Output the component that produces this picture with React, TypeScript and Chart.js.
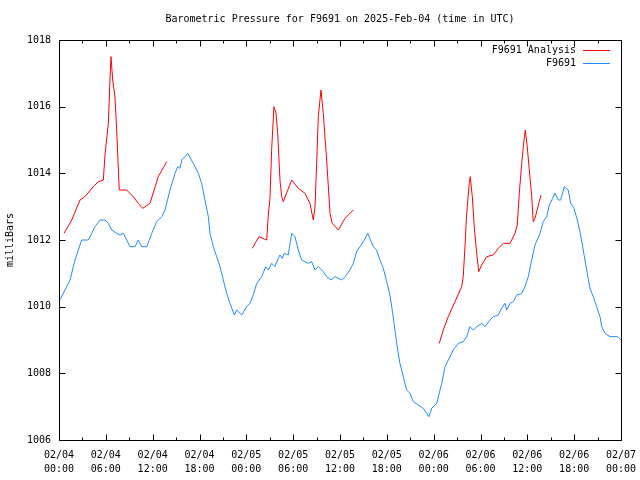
import React, { useEffect, useRef } from "react";
import { Chart, registerables } from "chart.js";

Chart.register(...registerables);

const FONT = "'DejaVu Sans Mono', 'Liberation Mono', monospace";
const TITLE = "Barometric Pressure for F9691 on 2025-Feb-04 (time in UTC)";
const Y_TITLE = "milliBars";
const SERIES_NAMES = ["F9691 Analysis", "F9691"];
const SERIES_COLORS = ["#ff0000", "#1e8cff"];

// x tick labels every 6 hours (hours since 02/04 00:00 UTC)
const TICK_HOURS = [0, 6, 12, 18, 24, 30, 36, 42, 48, 54, 60, 66, 72];
const TICK_DAYS = ["02/04", "02/04", "02/04", "02/04", "02/05", "02/05", "02/05", "02/05", "02/06", "02/06", "02/06", "02/06", "02/07"];
const TICK_TIMES = ["00:00", "06:00", "12:00", "18:00", "00:00", "06:00", "12:00", "18:00", "00:00", "06:00", "12:00", "18:00", "00:00"];
const Y_MIN = 1006;
const Y_MAX = 1018;

// F9691 observed pressure
const obsHours = [
  0, 0.77, 1.41, 2.05, 2.47, 2.91, 3.75, 4.19, 4.61, 5.25, 5.89, 6.32, 6.75, 7.39, 7.81, 8.24, 8.67, 9.1, 9.74,
  10.16, 10.59, 11.24, 11.88, 12.52, 13.16, 13.58, 14.22, 14.86, 15.21, 15.5, 15.72, 16.14, 16.49, 17.2, 17.85,
  18.28, 18.7, 19.13, 19.34, 19.77, 20.2, 20.63, 21.05, 21.48, 21.91, 22.46, 22.76, 23.41, 24.05, 24.47, 24.89,
  25.33, 25.97, 26.48, 26.81, 27.25, 27.67, 28.09, 28.31, 28.61, 28.86, 29.37, 29.81, 30.23, 30.66, 31.09, 31.51,
  31.94, 32.37, 32.8, 33.22, 33.86, 34.29, 34.85, 35.36, 36.22, 36.64, 37.28, 37.7, 38.14, 38.56, 39.11, 39.55,
  40.26, 40.7, 41.12, 41.55, 41.98, 42.4, 42.75, 43.04, 43.39, 43.68, 44.11, 44.54, 44.97, 45.39, 46.03, 46.67,
  47.11, 47.4, 47.75, 48.39, 49.03, 49.45, 50.09, 50.51, 51.15, 51.79, 52.23, 52.65, 53.07, 53.51, 54.15, 54.57,
  55.21, 55.64, 56.28, 56.71, 57.14, 57.35, 57.78, 58.2, 58.64, 59.28, 59.7, 60.12, 60.56, 60.98, 61.62, 62.04,
  62.48, 62.81, 63.25, 63.54, 63.96, 64.27, 64.73, 65.24, 65.55, 65.97, 66.4, 66.74, 67.09, 67.38, 67.68, 68.02,
  68.45, 68.88, 69.31, 69.53, 69.95, 70.59, 71.53, 72
];
const obsValues = [
  1010.15, 1010.5, 1010.8, 1011.4, 1011.7, 1012.0, 1012.0, 1012.2, 1012.4, 1012.6, 1012.6, 1012.5, 1012.3, 1012.2,
  1012.15, 1012.2, 1012.0, 1011.8, 1011.8, 1012.0, 1011.8, 1011.8, 1012.2, 1012.55, 1012.7, 1012.9, 1013.5, 1014.0,
  1014.2, 1014.15, 1014.4, 1014.5, 1014.6, 1014.3, 1014.0, 1013.7, 1013.2, 1012.7, 1012.2, 1011.8, 1011.5, 1011.2,
  1010.8, 1010.4, 1010.1, 1009.75, 1009.9, 1009.75, 1010.0, 1010.1, 1010.35, 1010.7, 1010.9, 1011.2, 1011.1, 1011.3,
  1011.2, 1011.45, 1011.55, 1011.45, 1011.6, 1011.55, 1012.2, 1012.1, 1011.7, 1011.4, 1011.35, 1011.3, 1011.35,
  1011.1, 1011.2, 1011.05, 1010.9, 1010.8, 1010.9, 1010.8, 1010.9, 1011.1, 1011.3, 1011.65, 1011.8, 1012.0, 1012.2,
  1011.8, 1011.7, 1011.4, 1011.15, 1010.75, 1010.35, 1009.8, 1009.3, 1008.7, 1008.3, 1007.9, 1007.5, 1007.4, 1007.15,
  1007.05, 1006.95, 1006.8, 1006.7, 1006.95, 1007.1, 1007.7, 1008.2, 1008.5, 1008.7, 1008.9, 1008.95, 1009.1, 1009.4,
  1009.3, 1009.4, 1009.5, 1009.4, 1009.6, 1009.7, 1009.75, 1009.95, 1010.1, 1009.9, 1010.1, 1010.15, 1010.35, 1010.4,
  1010.6, 1010.9, 1011.4, 1011.85, 1012.2, 1012.55, 1012.7, 1013.05, 1013.25, 1013.4, 1013.2, 1013.2, 1013.6, 1013.5,
  1013.1, 1012.95, 1012.6, 1012.25, 1011.8, 1011.4, 1011.0, 1010.55, 1010.3, 1010.0, 1009.7, 1009.4, 1009.2, 1009.1,
  1009.1, 1009.0
];

// F9691 Analysis (three separate runs; null breaks the line)
const anaHours = [
  0.64, 1.63, 2.69, 3.33, 4.39, 5.03, 5.68, 5.89, 6.32, 6.53, 6.66, 6.88, 7.17, 7.39, 7.72, 8.67, 9.52, 10.16, 10.72,
  11.66, 12.72, 13.8,
  19,
  24.76, 25.62, 26.61, 26.81, 27.03, 27.25, 27.54, 27.8, 28.02, 28.31, 28.53, 28.73, 29.81, 30.66, 31.51, 32.15,
  32.58, 32.8, 33.01, 33.22, 33.56, 33.86, 34.29, 34.72, 35.01, 35.78, 36.64, 37.7,
  43,
  48.72, 49.23, 49.87, 50.73, 51.59, 51.79, 52.01, 52.23, 52.56, 52.69, 52.95, 53.2, 53.51, 53.77, 54.15, 54.79,
  55.64, 56.28, 56.92, 57.78, 58.42, 58.71, 58.97, 59.28, 59.57, 59.74, 59.99, 60.25, 60.56, 60.76, 60.98, 61.53, 61.75
];
const anaValues = [
  1012.2, 1012.6, 1013.2, 1013.3, 1013.6, 1013.75, 1013.8, 1014.55, 1015.5, 1016.8, 1017.5, 1016.8, 1016.3, 1015.3,
  1013.5, 1013.5, 1013.3, 1013.1, 1012.95, 1013.1, 1013.9, 1014.35,
  null,
  1011.75, 1012.1, 1012.0, 1012.75, 1013.25, 1014.75, 1016.0, 1015.8, 1015.2, 1013.8, 1013.3, 1013.15, 1013.8, 1013.55,
  1013.4, 1013.1, 1012.6, 1013.0, 1014.3, 1015.7, 1016.5, 1015.8, 1014.4, 1012.8, 1012.5, 1012.3, 1012.65, 1012.9,
  null,
  1008.9, 1009.3, 1009.7, 1010.15, 1010.6, 1010.9, 1011.8, 1012.8, 1013.7, 1013.9, 1013.3, 1012.4, 1011.6, 1011.05,
  1011.25, 1011.5, 1011.55, 1011.75, 1011.9, 1011.9, 1012.2, 1012.45, 1013.4, 1014.3, 1015.0, 1015.3, 1014.8, 1014.1,
  1013.3, 1012.55, 1012.65, 1013.15, 1013.35
];

const framePlugin = {
  id: "gnuplotFrame",
  afterDatasetsDraw(chart: any) {
    const { ctx, chartArea } = chart;
    const { left, right, top, bottom } = chartArea;
    const xs = chart.scales.x;
    const ys = chart.scales.y;
    ctx.save();
    ctx.strokeStyle = "#000";
    ctx.lineWidth = 1;
    ctx.beginPath();
    const L = Math.round(left) + 0.5;
    const R = Math.round(right) + 0.5;
    const T = Math.round(top) + 0.5;
    const B = Math.round(bottom) + 0.5;
    ctx.rect(L, T, R - L, B - T);
    // x ticks: major every 6h, minor every 3h, pointing inward top & bottom
    for (let h = 0; h <= 72; h += 3) {
      const px = Math.round(xs.getPixelForValue(h)) + 0.5;
      const len = h % 6 === 0 ? 6 : 3;
      ctx.moveTo(px, B);
      ctx.lineTo(px, B - len);
      ctx.moveTo(px, T);
      ctx.lineTo(px, T + len);
    }
    for (let v = Y_MIN; v <= Y_MAX; v += 2) {
      const py = Math.round(ys.getPixelForValue(v)) + 0.5;
      ctx.moveTo(L, py);
      ctx.lineTo(L + 6, py);
      ctx.moveTo(R, py);
      ctx.lineTo(R - 6, py);
    }
    ctx.stroke();

    // legend (inside top-right, gnuplot style)
    ctx.font = "10px " + FONT;
    ctx.textAlign = "right";
    ctx.textBaseline = "middle";
    chart.data.datasets.forEach((ds: any, i: number) => {
      const y = 50 + i * 13;
      ctx.fillStyle = "#000";
      ctx.fillText(ds.label, 576, y);
      ctx.strokeStyle = ds.borderColor;
      ctx.beginPath();
      ctx.moveTo(583, y + 0.5);
      ctx.lineTo(610, y + 0.5);
      ctx.stroke();
    });
    ctx.restore();
  },
};

export default function App() {
  const ref = useRef<HTMLCanvasElement | null>(null);
  useEffect(() => {
    document.body.style.margin = "0";
    const canvas = ref.current;
    if (!canvas) return;
    const chart = new Chart(canvas, {
      type: "line",
      data: {
        datasets: [
          {
            label: SERIES_NAMES[0],
            data: anaHours.map((h, i) => ({ x: h, y: anaValues[i] })),
            borderColor: SERIES_COLORS[0],
            backgroundColor: SERIES_COLORS[0],
            borderWidth: 1,
            pointRadius: 0,
            tension: 0,
            spanGaps: false,
          },
          {
            label: SERIES_NAMES[1],
            data: obsHours.map((h, i) => ({ x: h, y: obsValues[i] })),
            borderColor: SERIES_COLORS[1],
            backgroundColor: SERIES_COLORS[1],
            borderWidth: 1,
            pointRadius: 0,
            tension: 0,
          },
        ],
      },
      options: {
        animation: false,
        responsive: false,
        devicePixelRatio: 1,
        layout: { padding: { top: 0, right: 19, bottom: 0, left: 0 } },
        plugins: {
          legend: { display: false },
          tooltip: { enabled: false },
          title: {
            display: true,
            text: TITLE,
            fullSize: false,
            color: "#000",
            font: { family: FONT, size: 10, weight: "normal", lineHeight: 1.2 },
            padding: { top: 13, bottom: 15 },
          },
        },
        scales: {
          x: {
            type: "linear",
            min: 0,
            max: 72,
            afterFit: (s: any) => {
              s.height = 40;
              s.paddingLeft = 0;
              s.paddingRight = 0;
            },
            afterBuildTicks: (s: any) => {
              s.ticks = TICK_HOURS.map((v) => ({ value: v }));
            },
            grid: { display: false },
            border: { display: false },
            ticks: {
              autoSkip: false,
              maxRotation: 0,
              minRotation: 0,
              padding: 0,
              color: "#000",
              font: { family: FONT, size: 10, lineHeight: 1.4 },
              callback: (v: any) => {
                const i = TICK_HOURS.indexOf(Number(v));
                return i >= 0 ? [TICK_DAYS[i], TICK_TIMES[i]] : "";
              },
            },
          },
          y: {
            type: "linear",
            min: Y_MIN,
            max: Y_MAX,
            afterFit: (s: any) => {
              s.width = 59;
              s.paddingTop = 0;
              s.paddingBottom = 0;
            },
            grid: { display: false },
            border: { display: false },
            ticks: {
              stepSize: 2,
              padding: 0,
              color: "#000",
              font: { family: FONT, size: 10 },
              callback: (v: any) => String(v),
            },
            title: {
              display: true,
              text: Y_TITLE,
              color: "#000",
              font: { family: FONT, size: 10 },
              padding: { top: 4, bottom: 0 },
            },
          },
        },
      },
      plugins: [framePlugin],
    });
    return () => chart.destroy();
  }, []);
  return (
    <div style={{ position: "fixed", left: 0, top: 0, width: 640, height: 480, background: "#fff" }}>
      <canvas ref={ref} width={640} height={480} style={{ display: "block" }} />
    </div>
  );
}
